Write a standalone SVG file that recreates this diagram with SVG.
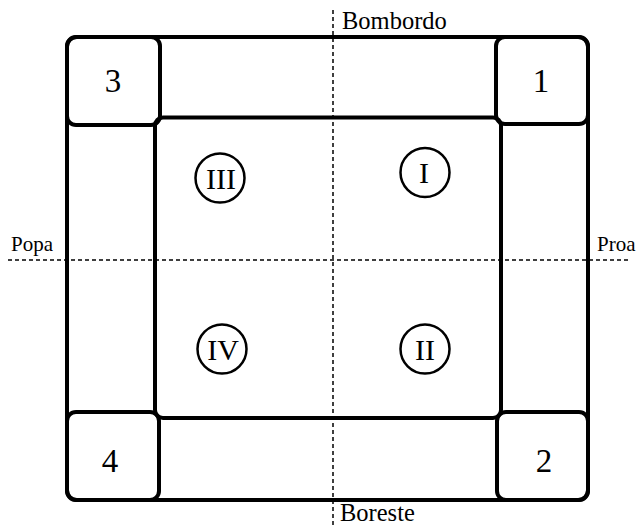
<svg xmlns="http://www.w3.org/2000/svg" width="637" height="526" viewBox="0 0 637 526">
<style>
.box{fill:none;stroke:#000;stroke-width:4}
.dash{stroke:#000;stroke-width:1.5;stroke-dasharray:4 3;fill:none}
.c{fill:#fff;stroke:#000;stroke-width:2.5}
text{font-family:"Liberation Serif","Times New Roman",serif;fill:#000}
.num{font-size:33px;text-anchor:middle}
.rom{font-size:30px;text-anchor:middle}
.lab{font-size:21px}
.big{font-size:24.5px}
</style>
<rect width="637" height="526" fill="#fff"/>
<g id="connectors">
<line class="dash" x1="333" y1="10" x2="333" y2="526"/>
<line class="dash" x1="8" y1="260" x2="630" y2="260"/>
</g>
<g id="hull"><rect class="box" x="67" y="37" width="521" height="463" rx="10"/></g>
<g id="center"><rect class="box" x="155" y="117.5" width="346" height="300.5" rx="8"/></g>
<g id="corner3"><rect class="box" x="67" y="37" width="93" height="88" rx="9"/><text class="num" x="113" y="92">3</text></g>
<g id="corner1"><rect class="box" x="496" y="37" width="92" height="87" rx="9"/><text class="num" x="541" y="92">1</text></g>
<g id="corner4"><rect class="box" x="67" y="412" width="92" height="88" rx="9"/><text class="num" x="110" y="472">4</text></g>
<g id="corner2"><rect class="box" x="497" y="412" width="91" height="88" rx="9"/><text class="num" x="544" y="472">2</text></g>
<g id="qIII"><circle class="c" cx="220" cy="178" r="24.5"/><text class="rom" x="221" y="189">III</text></g>
<g id="qI"><circle class="c" cx="425" cy="172.5" r="24.5"/><text class="rom" x="424" y="183">I</text></g>
<g id="qIV"><circle class="c" cx="222" cy="349" r="24.5"/><text class="rom" x="223" y="360">IV</text></g>
<g id="qII"><circle class="c" cx="425" cy="349" r="24.5"/><text class="rom" x="425" y="360">II</text></g>
<g id="labels">
<text class="lab big" x="342" y="29">Bombordo</text>
<text class="lab big" x="340" y="521">Boreste</text>
<text class="lab" x="11" y="251">Popa</text>
<text class="lab" x="597" y="251">Proa</text>
</g>
</svg>
